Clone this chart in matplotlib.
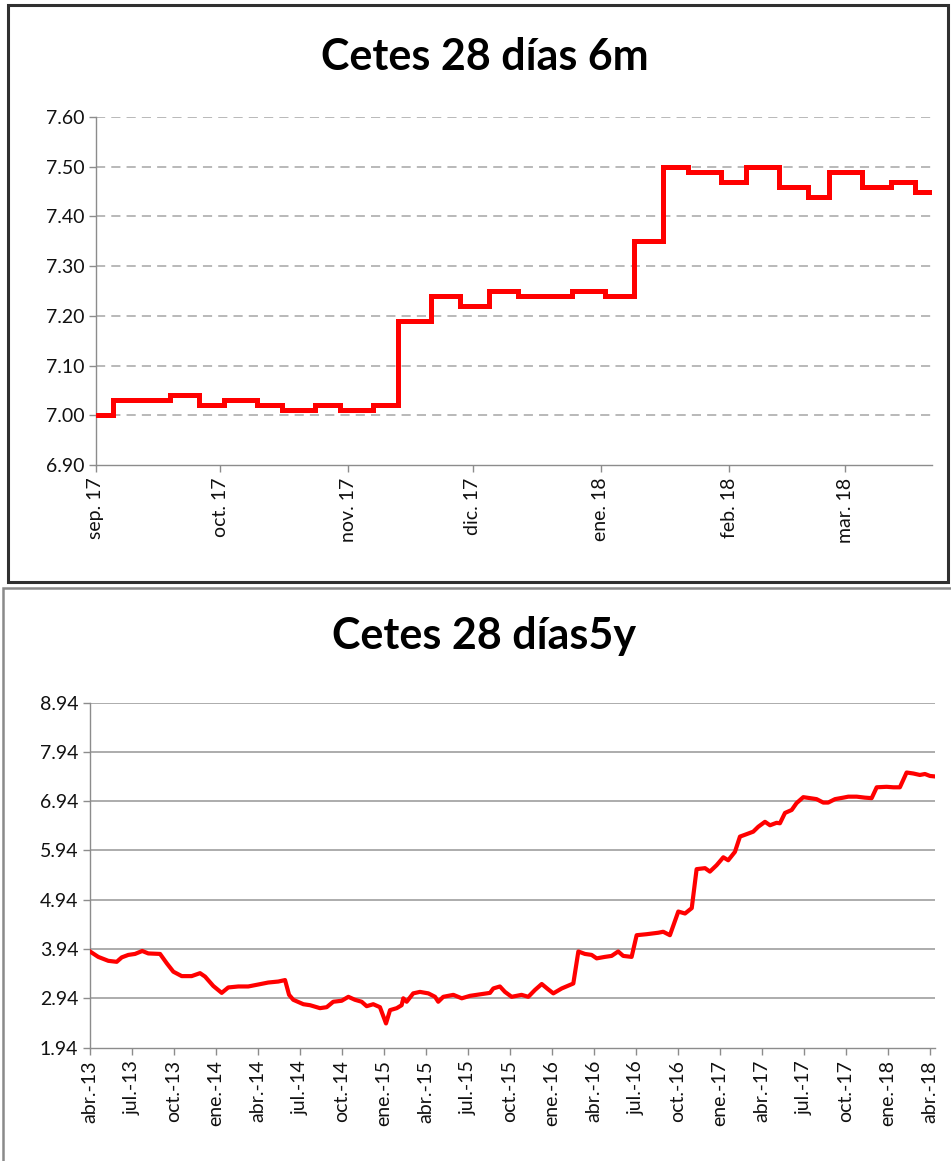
import matplotlib
matplotlib.use("Agg")
import matplotlib.pyplot as plt
from matplotlib.patches import Rectangle
import pandas as pd

# ---------------- data ----------------
title_6m = "Cetes 28 días 6m"
title_5y = "Cetes 28 días5y"

dates_6m = ['2017-09-01', '2017-09-05', '2017-09-19', '2017-09-26', '2017-10-02',
            '2017-10-10', '2017-10-16', '2017-10-24', '2017-10-30', '2017-11-07',
            '2017-11-13', '2017-11-21', '2017-11-28', '2017-12-05', '2017-12-12',
            '2017-12-25', '2018-01-02', '2018-01-09', '2018-01-16', '2018-01-22',
            '2018-01-30', '2018-02-05', '2018-02-13', '2018-02-20', '2018-02-25',
            '2018-03-05', '2018-03-12', '2018-03-18', '2018-03-22']
rates_6m = [7.00, 7.03, 7.04, 7.02, 7.03, 7.02, 7.01, 7.02, 7.01, 7.02,
            7.19, 7.24, 7.22, 7.25, 7.24, 7.25, 7.24, 7.35, 7.50, 7.49,
            7.47, 7.50, 7.46, 7.44, 7.49, 7.46, 7.47, 7.45, 7.45]
ticks_6m = ['2017-09-01', '2017-10-01', '2017-11-01', '2017-12-01',
            '2018-01-01', '2018-02-01', '2018-03-01']
ticklabels_6m = ['sep. 17', 'oct. 17', 'nov. 17', 'dic. 17', 'ene. 18', 'feb. 18', 'mar. 18']
yticks_6m = [6.90, 7.00, 7.10, 7.20, 7.30, 7.40, 7.50, 7.60]

years_5y = [2013.250, 2013.299, 2013.359, 2013.409, 2013.439, 2013.478, 2013.518, 2013.561,
            2013.597, 2013.667, 2013.707, 2013.746, 2013.796, 2013.855, 2013.905, 2013.935,
            2013.984, 2014.034, 2014.073, 2014.133, 2014.192, 2014.252, 2014.311, 2014.371,
            2014.411, 2014.435, 2014.460, 2014.520, 2014.560, 2014.619, 2014.659, 2014.698,
            2014.748, 2014.788, 2014.827, 2014.867, 2014.897, 2014.936, 2014.976, 2015.012,
            2015.036, 2015.076, 2015.105, 2015.115, 2015.135, 2015.174, 2015.214, 2015.264,
            2015.304, 2015.323, 2015.353, 2015.413, 2015.463, 2015.512, 2015.571, 2015.631,
            2015.651, 2015.690, 2015.720, 2015.760, 2015.819, 2015.859, 2015.899, 2015.939,
            2015.978, 2016.008, 2016.058, 2016.127, 2016.157, 2016.196, 2016.236, 2016.266,
            2016.315, 2016.355, 2016.394, 2016.424, 2016.474, 2016.504, 2016.563, 2016.633,
            2016.662, 2016.702, 2016.752, 2016.792, 2016.832, 2016.861, 2016.911, 2016.940,
            2016.980, 2017.020, 2017.049, 2017.089, 2017.119, 2017.159, 2017.198, 2017.228,
            2017.268, 2017.298, 2017.337, 2017.357, 2017.387, 2017.427, 2017.456, 2017.496,
            2017.536, 2017.575, 2017.615, 2017.644, 2017.685, 2017.734, 2017.764, 2017.814,
            2017.863, 2017.903, 2017.933, 2017.992, 2018.032, 2018.071, 2018.111, 2018.151,
            2018.190, 2018.220, 2018.250, 2018.280]
rates_5y = [3.89, 3.78, 3.70, 3.68, 3.77, 3.82, 3.84, 3.90,
            3.85, 3.84, 3.65, 3.48, 3.39, 3.39, 3.45, 3.38,
            3.19, 3.05, 3.16, 3.18, 3.18, 3.22, 3.26, 3.28,
            3.31, 3.01, 2.91, 2.82, 2.80, 2.74, 2.76, 2.87,
            2.89, 2.97, 2.91, 2.87, 2.78, 2.82, 2.76, 2.43,
            2.70, 2.74, 2.80, 2.94, 2.87, 3.04, 3.07, 3.04,
            2.97, 2.87, 2.97, 3.01, 2.94, 2.99, 3.02, 3.05,
            3.14, 3.18, 3.07, 2.97, 3.01, 2.97, 3.11, 3.23,
            3.12, 3.04, 3.14, 3.24, 3.89, 3.84, 3.82, 3.75,
            3.78, 3.80, 3.89, 3.80, 3.78, 4.22, 4.24, 4.27,
            4.29, 4.22, 4.70, 4.66, 4.77, 5.56, 5.58, 5.51,
            5.64, 5.80, 5.74, 5.91, 6.22, 6.27, 6.32, 6.42,
            6.52, 6.45, 6.50, 6.49, 6.70, 6.76, 6.90, 7.02,
            7.00, 6.98, 6.91, 6.91, 6.98, 7.01, 7.03, 7.03,
            7.01, 7.00, 7.22, 7.23, 7.22, 7.22, 7.52, 7.50,
            7.47, 7.49, 7.45, 7.44]
ticklabels_5y = ['abr.-13', 'jul.-13', 'oct.-13', 'ene.-14', 'abr.-14', 'jul.-14', 'oct.-14',
                 'ene.-15', 'abr.-15', 'jul.-15', 'oct.-15', 'ene.-16', 'abr.-16', 'jul.-16',
                 'oct.-16', 'ene.-17', 'abr.-17', 'jul.-17', 'oct.-17', 'ene.-18', 'abr.-18']
yticks_5y = [1.94, 2.94, 3.94, 4.94, 5.94, 6.94, 7.94, 8.94]

# ---------------- style ----------------
FONT = ['Lato', 'DejaVu Sans']
plt.rcParams['font.family'] = FONT
RED = '#ff0000'
GRID = '#a6a6a6'
AXC = '#8c8c8c'
W, H = 951, 1161

fig = plt.figure(figsize=(W / 100, H / 100), dpi=100)
fig.patch.set_facecolor('white')


def rect(l, r, t, b):
    return [l / W, 1 - b / H, (r - l) / W, (b - t) / H]


# panel borders
fig.patches.append(Rectangle((8 / W, 1 - 582 / H), (948 - 8) / W, (582 - 5) / H,
                             transform=fig.transFigure, fill=False,
                             edgecolor='#303030', linewidth=2.2))
fig.patches.append(Rectangle((3 / W, 1 - 1163 / H), (955 - 3) / W, (1163 - 588) / H,
                             transform=fig.transFigure, fill=False,
                             edgecolor='#8a8a8a', linewidth=1.8))


def style_axes(ax):
    for s in ['top', 'right']:
        ax.spines[s].set_visible(False)
    for s in ['left', 'bottom']:
        ax.spines[s].set_color(AXC)
        ax.spines[s].set_linewidth(1.0)
    ax.tick_params(axis='both', colors=AXC, length=5, width=1.0, labelcolor='#111111',
                   labelsize=14)
    ax.tick_params(axis='x', pad=4)


# ---- top chart ----
ax1 = fig.add_axes(rect(96, 932, 117, 465))
d6 = pd.to_datetime(dates_6m)
ax1.plot(d6, rates_6m, color=RED, linewidth=3.6, drawstyle='steps-post',
         solid_joinstyle='miter', zorder=3)
ax1.set_ylim(6.90, 7.60)
ax1.set_xlim(pd.Timestamp('2017-09-01'), pd.Timestamp('2018-03-22'))
ax1.set_yticks(yticks_6m)
ax1.set_yticklabels([f'{v:.2f}' for v in yticks_6m])
ax1.set_xticks(pd.to_datetime(ticks_6m))
ax1.set_xticklabels(ticklabels_6m, rotation=90)
for v in yticks_6m[1:]:
    ax1.axhline(v, color=GRID, linewidth=1.1, linestyle=(0, (6, 4)), zorder=1)
style_axes(ax1)
fig.text(485 / W, 1 - 57 / H, title_6m, ha='center', va='center',
         fontsize=31, fontweight='bold', color='black')

# ---- bottom chart ----
ax2 = fig.add_axes(rect(90, 935, 702.5, 1047.6))
ax2.plot(years_5y, rates_5y, color=RED, linewidth=3.0, zorder=3,
         solid_joinstyle='round')
ax2.set_ylim(1.94, 8.94)
ax2.set_xlim(2013.25, 2018.28)
ax2.set_yticks(yticks_5y)
ax2.set_yticklabels([f'{v:.2f}' for v in yticks_5y])
xt5 = [2013.25 + 0.25 * i for i in range(len(ticklabels_5y))]
ax2.set_xticks(xt5)
ax2.set_xticklabels(ticklabels_5y, rotation=90)
for v in yticks_5y[1:]:
    ax2.axhline(v, color=GRID, linewidth=1.3, zorder=1)
style_axes(ax2)
fig.text(484 / W, 1 - 636 / H, title_5y, ha='center', va='center',
         fontsize=31, fontweight='bold', color='black')

fig.savefig('out.png', dpi=100, facecolor='white')
